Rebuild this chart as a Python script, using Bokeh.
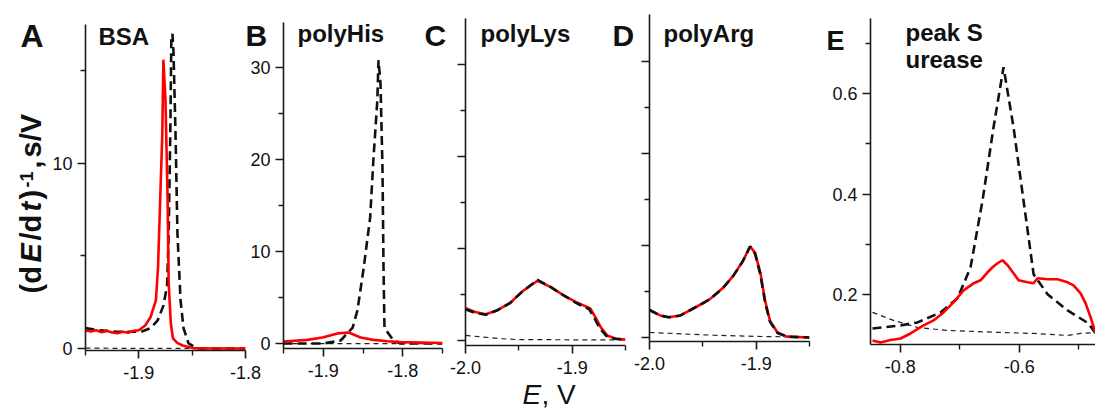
import math
from bokeh.plotting import figure
from bokeh.models import FixedTicker, Label, Range1d, PrintfTickFormatter, CustomJSTickFormatter
from bokeh.layouts import row
from bokeh.embed import file_html
from bokeh.resources import INLINE

FONT = "Liberation Sans"
RED = "#ff0000"
INK = "#111111"

# ---------------- data ----------------
# Panel A  (BSA)
A_red_x = [-1.950, -1.945, -1.940, -1.935, -1.930, -1.925, -1.920, -1.915, -1.910, -1.905, -1.900,
           -1.894, -1.889, -1.884, -1.882, -1.880, -1.878, -1.877, -1.875, -1.873, -1.872, -1.870,
           -1.868, -1.864, -1.859, -1.849, -1.830, -1.800]
A_red_y = [0.97, 0.92, 0.98, 0.88, 0.95, 0.86, 0.82, 0.90, 0.85, 0.95, 0.98,
           1.24, 1.7, 2.6, 4.4, 8.0, 11.6, 15.6, 13.4, 8.0, 3.5, 1.35,
           0.54, 0.3, 0.16, 0.02, 0.0, 0.0]
A_blk_x = [-1.950, -1.940, -1.930, -1.920, -1.910, -1.898, -1.889, -1.8825, -1.877, -1.8735, -1.872,
           -1.8705, -1.8695, -1.8685, -1.8675, -1.8656, -1.8638, -1.8609, -1.8581, -1.8534, -1.845, -1.800]
A_blk_y = [1.1, 1.0, 0.95, 0.9, 0.9, 0.9, 1.1, 1.5, 2.3, 3.4, 6.2,
           11.6, 16.8, 17.0, 16.0, 11.6, 6.2, 2.6, 1.1, 0.27, 0.0, 0.0]
A_base_x = [-1.95, -1.90, -1.85, -1.80]
A_base_y = [0.02, 0.0, 0.0, 0.0]

# Panel B  (polyHis)
B_red_x = [-1.95, -1.92, -1.901, -1.882, -1.868, -1.853, -1.837, -1.819, -1.803, -1.75]
B_red_y = [0.22, 0.4, 0.65, 1.1, 1.2, 0.65, 0.4, 0.25, 0.15, 0.05]
B_blk_x = [-1.95, -1.90, -1.878, -1.863, -1.857, -1.849, -1.841, -1.837, -1.832, -1.8305, -1.828,
           -1.8255, -1.8242, -1.823, -1.818, -1.8116, -1.803, -1.75]
B_blk_y = [0.0, 0.0, 0.33, 1.74, 3.6, 8.3, 13.7, 19.9, 26.4, 30.8, 28.3,
           19.1, 8.3, 1.74, 1.1, 0.33, 0.0, 0.0]
B_base_x = [-1.95, -1.85, -1.75]
B_base_y = [0.0, 0.0, 0.0]

# Panel C  (polyLys)
C_red_x = [-2.0, -1.991, -1.981, -1.970, -1.958, -1.946, -1.9325, -1.920, -1.908, -1.895,
           -1.883, -1.878, -1.873, -1.867, -1.859, -1.85]
C_red_y = [3.5, 3.1, 2.85, 3.3, 4.1, 5.4, 6.5, 5.8, 4.9, 4.1, 3.5, 2.5, 1.4, 0.54, 0.2, 0.1]
C_blk_x = [-2.0, -1.991, -1.981, -1.970, -1.958, -1.946, -1.9325, -1.920, -1.908, -1.895,
           -1.884, -1.879, -1.874, -1.868, -1.860, -1.85]
C_blk_y = [3.4, 3.0, 2.8, 3.3, 4.1, 5.4, 6.6, 5.8, 4.9, 4.0, 3.4, 2.4, 1.3, 0.5, 0.2, 0.1]
C_base_x = [-2.0, -1.983, -1.967, -1.951, -1.90, -1.85]
C_base_y = [0.55, 0.38, 0.2, 0.1, 0.08, 0.08]

# Panel D  (polyArg)
D_red_x = [-2.0, -1.990, -1.982, -1.971, -1.955, -1.943, -1.931, -1.9215, -1.913, -1.9056,
           -1.901, -1.896, -1.8916, -1.887, -1.880, -1.871, -1.85]
D_red_y = [3.0, 2.4, 2.2, 2.4, 3.4, 4.2, 5.4, 6.7, 8.2, 9.9, 9.2, 7.0, 4.0, 1.8, 0.54, 0.1, 0.0]
D_blk_x = [-2.0, -1.990, -1.982, -1.971, -1.955, -1.943, -1.931, -1.9215, -1.913, -1.9056,
           -1.901, -1.896, -1.8916, -1.887, -1.880, -1.871, -1.85]
D_blk_y = [3.0, 2.4, 2.2, 2.4, 3.4, 4.2, 5.4, 6.7, 8.2, 9.9, 9.1, 6.8, 3.8, 1.7, 0.5, 0.1, 0.0]
D_base_x = [-2.0, -1.97, -1.94, -1.90, -1.85]
D_base_y = [0.55, 0.4, 0.25, 0.12, 0.05]

# Panel E  (peak S, urease)
E_red_x = [-0.8466, -0.8332, -0.8164, -0.7996, -0.7828, -0.7609, -0.7441, -0.7273, -0.7105,
           -0.6937, -0.6769, -0.6651, -0.6534, -0.645, -0.6366, -0.6282, -0.6197, -0.6097,
           -0.6013, -0.5861, -0.576, -0.5693, -0.5525, -0.5357, -0.5189, -0.5088, -0.497,
           -0.4886, -0.4802, -0.4718]
E_red_y = [0.108, 0.104, 0.109, 0.112, 0.122, 0.138, 0.148, 0.164, 0.184, 0.208, 0.222, 0.228,
           0.244, 0.254, 0.262, 0.268, 0.258, 0.242, 0.228, 0.224, 0.222, 0.232, 0.23, 0.23,
           0.224, 0.218, 0.202, 0.182, 0.154, 0.122]
E_blk_x = [-0.8466, -0.7996, -0.771, -0.7324, -0.7038, -0.6819, -0.6618, -0.6433, -0.6265,
           -0.6097, -0.5929, -0.576, -0.5525, -0.5189, -0.4836, -0.4718]
E_blk_y = [0.132, 0.138, 0.144, 0.164, 0.192, 0.254, 0.387, 0.533, 0.653, 0.533, 0.387, 0.24,
           0.2, 0.168, 0.142, 0.122]
E_base_x = [-0.8466, -0.8113, -0.771, -0.7206, -0.6315, -0.576, -0.5189, -0.497, -0.4718]
E_base_y = [0.164, 0.148, 0.134, 0.128, 0.124, 0.122, 0.118, 0.122, 0.124]

# ticks
A_XMAJ, A_XMIN, A_YMAJ, A_YMIN = [-1.9, -1.8], [-1.95, -1.85], [0, 10], [5, 15]
B_XMAJ, B_XMIN, B_YMAJ, B_YMIN = [-1.9, -1.8], [-1.95, -1.85, -1.75], [0, 10, 20, 30], [5, 15, 25]
C_XMAJ, C_XMIN, C_YMAJ, C_YMIN = [-2.0, -1.9], [-1.95, -1.85], [0, 10, 20, 30], [5, 15, 25]
D_XMAJ, D_XMIN, D_YMAJ, D_YMIN = [-2.0, -1.9], [-1.95, -1.85], [0, 10, 20, 30], [5, 15, 25]
E_XMAJ, E_XMIN, E_YMAJ, E_YMIN = [-0.8, -0.6], [-0.7, -0.5], [0.2, 0.4, 0.6], [0.3, 0.5, 0.7]

# ---------------- layout geometry (page pixels) ----------------
W, H = 1095, 412
# name: (fig_left, fig_width, frame_left, frame_right, frame_top, frame_bottom, xrange, yrange)
GEOM = {
    "A": (0, 262, 85, 245, 24, 350, (-1.95, -1.80), (-0.11, 17.5)),
    "B": (245, 207, 283, 442, 22, 348, (-1.95, -1.75), (-0.54, 34.9)),
    "C": (440, 200, 465, 625, 18, 345, (-2.0, -1.85), (-0.54, 35.0)),
    "D": (630, 195, 649, 809, 14, 341, (-2.0, -1.85), (-0.43, 35.1)),
    "E": (815, 280, 870, 1095, 18, 344, (-0.85, -0.472), (0.10, 0.75)),
}


def make_panel(name, prev_right, xmaj, xmin, ymaj, ymin, xfmt, yfmt, show_ylabels=True):
    fl, fw, l, r, t, b, xr, yr = GEOM[name]
    p = figure(width=fw, height=H, x_range=xr, y_range=yr,
               output_backend="svg", toolbar_location=None,
               min_border_left=l - fl, min_border_right=fl + fw - r,
               min_border_top=t, min_border_bottom=H - b, frame_align=False)
    p.margin = (0, 0, 0, fl - prev_right)
    p.background_fill_color = None
    p.border_fill_color = None
    p.outline_line_color = None
    p.xgrid.visible = False
    p.ygrid.visible = False
    for ax in (p.xaxis[0], p.yaxis[0]):
        ax.axis_line_color = "#1a1a1a"
        ax.axis_line_width = 1.6
        ax.major_tick_line_color = "#1a1a1a"
        ax.major_tick_line_width = 1.6
        ax.minor_tick_line_color = "#1a1a1a"
        ax.minor_tick_line_width = 1.4
        ax.major_tick_in = 0
        ax.major_tick_out = 8
        ax.minor_tick_in = 0
        ax.minor_tick_out = 5
        ax.major_label_text_font = FONT
        ax.major_label_text_font_size = "18px"
        ax.major_label_text_color = INK
    p.xaxis.ticker = FixedTicker(ticks=xmaj, minor_ticks=xmin)
    p.yaxis.ticker = FixedTicker(ticks=ymaj, minor_ticks=ymin)
    p.xaxis.formatter = PrintfTickFormatter(format=xfmt)
    if show_ylabels:
        p.yaxis.formatter = PrintfTickFormatter(format=yfmt)
    else:
        p.yaxis.formatter = CustomJSTickFormatter(code="return ''")
    p.xaxis.major_label_standoff = 7
    p.yaxis.major_label_standoff = 5
    return p


def curves(p, bx, by, rx, ry, kx, ky, red_on_top=False):
    p.line(bx, by, line_color="#222222", line_width=1.2, line_dash="5 4")
    if red_on_top:
        p.line(kx, ky, line_color="#111111", line_width=2.6, line_dash="9 5")
        p.line(rx, ry, line_color=RED, line_width=2.6)
    else:
        p.line(rx, ry, line_color=RED, line_width=2.6)
        p.line(kx, ky, line_color="#111111", line_width=2.6, line_dash="9 5")


pA = make_panel("A", 0, A_XMAJ, A_XMIN, A_YMAJ, A_YMIN, "%.1f", "%d")
curves(pA, A_base_x, A_base_y, A_red_x, A_red_y, A_blk_x, A_blk_y, red_on_top=True)
pB = make_panel("B", 262, B_XMAJ, B_XMIN, B_YMAJ, B_YMIN, "%.1f", "%d")
curves(pB, B_base_x, B_base_y, B_red_x, B_red_y, B_blk_x, B_blk_y, red_on_top=True)
pC = make_panel("C", 452, C_XMAJ, C_XMIN, C_YMAJ, C_YMIN, "%.1f", "%d", show_ylabels=False)
curves(pC, C_base_x, C_base_y, C_red_x, C_red_y, C_blk_x, C_blk_y)
pD = make_panel("D", 640, D_XMAJ, D_XMIN, D_YMAJ, D_YMIN, "%.1f", "%d", show_ylabels=False)
curves(pD, D_base_x, D_base_y, D_red_x, D_red_y, D_blk_x, D_blk_y)
pE = make_panel("E", 825, E_XMAJ, E_XMIN, E_YMAJ, E_YMIN, "%.1f", "%.1f")
curves(pE, E_base_x, E_base_y, E_red_x, E_red_y, E_blk_x, E_blk_y, red_on_top=True)

# ---------------- transparent overlay for all annotation texts ----------------
ov = figure(width=W, height=H, x_range=Range1d(0, W), y_range=Range1d(H, 0),
            output_backend="svg", toolbar_location=None, frame_align=False,
            min_border_left=0, min_border_right=0, min_border_top=0, min_border_bottom=0)
ov.margin = (0, 0, 0, -W)
ov.background_fill_color = None
ov.border_fill_color = None
ov.outline_line_color = None
ov.axis.visible = False
ov.grid.visible = False

SHIFT = 0.38  # compensation (in em) of the label baseline offset


def lab(px, py, text, size, style="bold", angle=0.0):
    if angle == 0.0:
        py = py - SHIFT * size
    else:
        px = px - SHIFT * size
    ov.add_layout(Label(x=px, y=py, text=text, text_font=FONT, text_font_size=f"{size}px",
                        text_font_style=style, angle=angle, text_align="left",
                        text_baseline="alphabetic", text_color=INK))


# panel letters and titles
lab(20, 48, "A", 32)
lab(98, 45, "BSA", 24)
lab(245, 46, "B", 30)
lab(297, 42, "polyHis", 24)
lab(424, 46, "C", 30)
lab(480, 42, "polyLys", 24)
lab(612, 46, "D", 30)
lab(663, 42, "polyArg", 24)
lab(826, 51, "E", 27)
lab(905, 41, "peak S", 24)
lab(905, 68, "urease", 24)

# y-axis title, rotated, composed of pieces
R = math.pi / 2
BX = 42
lab(BX, 293, "(d", 29, "bold", R)
lab(BX, 262, "E", 29, "bold italic", R)
lab(BX, 240, "/d", 29, "bold", R)
lab(BX, 211, "t", 29, "bold italic", R)
lab(BX, 199, ")", 29, "bold", R)
lab(BX - 9, 187, "-1", 18, "bold", R)
lab(BX, 168, ",", 29, "bold", R)
lab(BX, 157, "s/V", 29, "bold", R)

# x-axis title
lab(522, 405, "E", 28, "italic")
lab(541, 405, ", V", 28, "normal")

layout = row(pA, pB, pC, pD, pE, ov)
open("out.html", "w").write(file_html(layout, INLINE))
